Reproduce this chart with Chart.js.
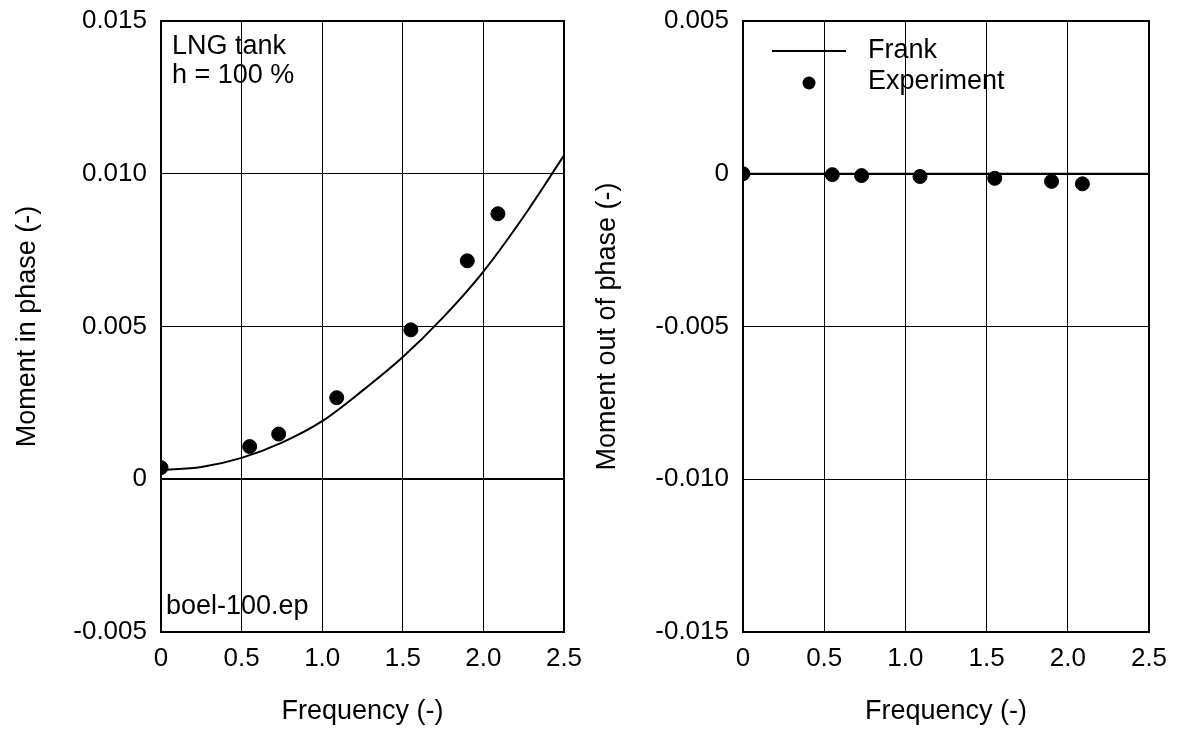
<!DOCTYPE html>
<html>
<head>
<meta charset="utf-8">
<script src="https://cdn.jsdelivr.net/npm/chart.js@4/dist/chart.umd.min.js"></script>
<style>
  body { margin: 0; background: #fff; }
  canvas { position: absolute; top: 0; }
  #left { left: 0; }
  #right { left: 589px; }
</style>
</head>
<body>
<canvas id="left" width="589" height="736"></canvas>
<canvas id="right" width="589" height="736"></canvas>
<script>
// frequency ticks + data
const xTicks = [0, 0.5, 1.0, 1.5, 2.0, 2.5];
const inPhaseTicks = [-0.005, 0, 0.005, 0.010, 0.015];
const outPhaseTicks = [-0.015, -0.010, -0.005, 0, 0.005];

const expFreq = [0, 0.55, 0.73, 1.09, 1.55, 1.90, 2.09];
const expInPhase = [0.00038, 0.00107, 0.00148, 0.00267, 0.00489, 0.00715, 0.00869];
const expOutPhase = [0, -0.00003, -0.00006, -0.00009, -0.00015, -0.00025, -0.00033];

const frankFreq = [0, 0.25, 0.5, 0.75, 1.0, 1.25, 1.5, 1.75, 2.0, 2.25, 2.5];
const frankInPhase = [0.0003, 0.0004, 0.0007, 0.0012, 0.0019, 0.0029, 0.0040, 0.0053, 0.0068, 0.0086, 0.0106];
const frankOutPhase = [0, 0, 0, 0, 0, 0, 0, 0, 0, 0, 0];

const FONT = "'Liberation Sans', Arial, sans-serif";
const TEXT_SIZE = 27;
Chart.defaults.font.family = FONT;
Chart.defaults.font.size = 26;
Chart.defaults.color = "#000";

function pts(xs, ys) {
    return xs.map((x, i) => ({x: x, y: ys[i]}));
}

function fixTicks(arr) {
    return function (scale) {
        scale.ticks = arr.map(v => ({value: v}));
    };
}

// fixed box size, and no extra room asked for the end labels
function fixSize(key, size) {
    return function (s) {
        s[key] = size;
        s.paddingTop = s.paddingBottom = s.paddingLeft = s.paddingRight = 0;
    };
}

function fmtY(v) {
    return Math.abs(v) < 1e-12 ? "0" : v.toFixed(3);
}
function fmtX(v) {
    return Math.abs(v) < 1e-12 ? "0" : v.toFixed(1);
}

// frame + extra text drawn on top
const framePlugin = {
    id: "frame",
    afterDraw(chart, args, opts) {
        const a = chart.chartArea;
        const ctx = chart.ctx;
        ctx.save();
        ctx.strokeStyle = "#000";
        ctx.lineWidth = 2;
        ctx.strokeRect(a.left, a.top, a.right - a.left, a.bottom - a.top);
        ctx.fillStyle = "#000";
        ctx.font = TEXT_SIZE + "px " + FONT;
        ctx.textBaseline = "middle";
        (opts.texts || []).forEach(t => {
            ctx.fillText(t.text, a.left + t.dx, t.fromBottom ? a.bottom - t.dy : a.top + t.dy);
        });
        if (opts.legend) {
            ctx.lineWidth = 2;
            ctx.beginPath();
            ctx.moveTo(a.left + 29, a.top + 30);
            ctx.lineTo(a.left + 103, a.top + 30);
            ctx.stroke();
            ctx.beginPath();
            ctx.arc(a.left + 66, a.top + 62, 6.5, 0, Math.PI * 2);
            ctx.fill();
            ctx.fillText("Frank", a.left + 125, a.top + 30);
            ctx.fillText("Experiment", a.left + 125, a.top + 61);
        }
        ctx.restore();
    }
};

function makeChart(id, cfg) {
    return new Chart(document.getElementById(id), {
        type: "scatter",
        data: {
            datasets: [{
                label: "Frank",
                data: pts(frankFreq, cfg.frank),
                showLine: true,
                borderColor: "#000",
                borderWidth: 2,
                pointRadius: 0,
                cubicInterpolationMode: "monotone"
            }, {
                label: "Experiment",
                data: pts(expFreq, cfg.exp),
                showLine: false,
                pointRadius: 7,
                pointBackgroundColor: "#000",
                pointBorderColor: "#000"
            }]
        },
        options: {
            responsive: false,
            animation: false,
            devicePixelRatio: 1,
            layout: {padding: {top: 21, right: cfg.padRight, left: 0, bottom: 0}},
            plugins: {
                legend: {display: false},
                tooltip: {enabled: false},
                frame: {texts: cfg.texts, legend: cfg.legend}
            },
            scales: {
                x: {
                    type: "linear",
                    min: 0,
                    max: 2.5,
                    afterBuildTicks: fixTicks(xTicks),
                    afterFit: fixSize("height", 104),
                    ticks: {padding: 11, callback: v => fmtX(v), maxRotation: 0},
                    grid: {color: "#000", lineWidth: 1, drawTicks: false},
                    border: {display: false},
                    title: {
                        display: true, text: "Frequency (-)",
                        font: {size: TEXT_SIZE},
                        padding: {top: 0, bottom: 8}
                    }
                },
                y: {
                    type: "linear",
                    min: cfg.yTicks[0],
                    max: cfg.yTicks[cfg.yTicks.length - 1],
                    afterBuildTicks: fixTicks(cfg.yTicks),
                    afterFit: fixSize("width", cfg.yWidth),
                    ticks: {padding: 14, callback: v => fmtY(v)},
                    grid: {
                        color: "#000",
                        lineWidth: c => (c.tick && Math.abs(c.tick.value) < 1e-12 ? 2 : 1),
                        drawTicks: false
                    },
                    border: {display: false},
                    title: {
                        display: true, text: cfg.yTitle,
                        font: {size: TEXT_SIZE},
                        padding: {top: cfg.titlePad, bottom: 0}
                    }
                }
            }
        },
        plugins: [framePlugin]
    });
}

makeChart("left", {
    frank: frankInPhase,
    exp: expInPhase,
    yTicks: inPhaseTicks,
    yTitle: "Moment in phase (-)",
    yWidth: 161,
    padRight: 25,
    titlePad: 11,
    legend: false,
    texts: [
        {text: "LNG tank", dx: 11, dy: 26},
        {text: "h = 100 %", dx: 11, dy: 55},
        {text: "boel-100.ep", dx: 5, dy: 25, fromBottom: true}
    ]
});

makeChart("right", {
    frank: frankOutPhase,
    exp: expOutPhase,
    yTicks: outPhaseTicks,
    yTitle: "Moment out of phase (-)",
    yWidth: 154,
    padRight: 29,
    titlePad: 2,
    legend: true,
    texts: []
});
</script>
</body>
</html>
